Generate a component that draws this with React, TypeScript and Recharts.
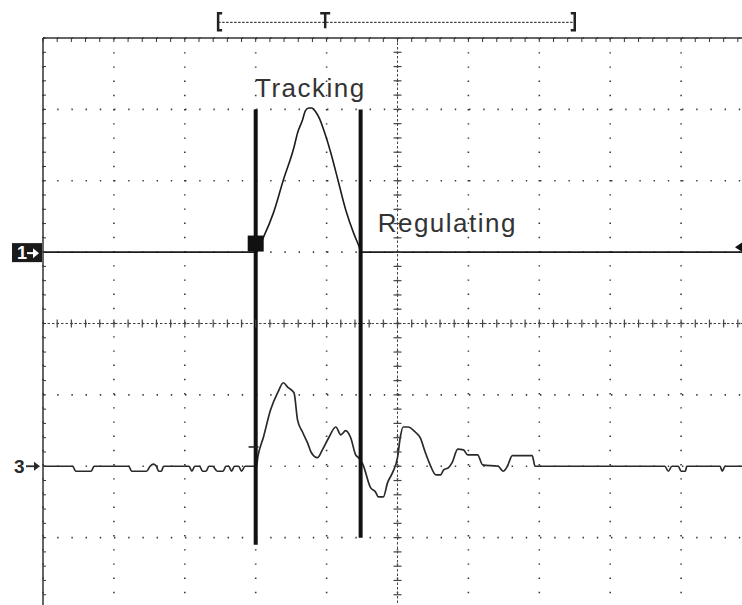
import { ComposedChart, Line, XAxis, YAxis, CartesianGrid, ReferenceLine, ReferenceDot, Scatter } from 'recharts'

// screen is 10 x 8 divisions, values are in divisions
const majorX = [0, 1, 2, 3, 4, 5, 6, 7, 8, 9, 10]
const majorY = [-4, -3, -2, -1, 0, 1, 2, 3, 4]
const minorX = Array.from({ length: 51 }, (_, i) => +(i * 0.2).toFixed(1))
const minorY = Array.from({ length: 41 }, (_, i) => +(-4 + i * 0.2).toFixed(1))

// channel 1 (offset +1 div)
const ch1Trace: [number, number][] = [
    [0, 1], [3.0, 1], [3.11, 1.21], [3.25, 1.55], [3.39, 2.01], [3.54, 2.47], [3.59, 2.67],
    [3.66, 2.85], [3.7, 2.98], [3.75, 3.02], [3.79, 3.02], [3.85, 2.96], [3.9, 2.87],
    [3.96, 2.71], [4.06, 2.39], [4.16, 2.01], [4.27, 1.59], [4.38, 1.27], [4.45, 1.1],
    [4.49, 1.0], [10, 1],
]

// channel 3 (offset -2 div)
const ch3Trace: [number, number][] = [
    [0, -2], [0.42, -2], [0.46, -2.07], [0.68, -2.07], [0.72, -2], [1.21, -2], [1.25, -2.07],
    [1.46, -2.07], [1.51, -2], [1.56, -1.97], [1.6, -2], [1.63, -2.07], [1.67, -2.07], [1.7, -2],
    [2.06, -2], [2.1, -2.07], [2.14, -2], [2.21, -2], [2.25, -2.07], [2.3, -2.07], [2.34, -2],
    [2.39, -2], [2.46, -2.07], [2.54, -2.07], [2.58, -2], [2.62, -2], [2.66, -2.07], [2.7, -2],
    [2.76, -2], [2.8, -2.07], [2.85, -2], [3.01, -2],
    [3.03, -1.87], [3.11, -1.59], [3.21, -1.21], [3.31, -0.97], [3.39, -0.83], [3.45, -0.89],
    [3.54, -0.97], [3.59, -1.35], [3.66, -1.52], [3.73, -1.67], [3.78, -1.8], [3.87, -1.88],
    [3.94, -1.77], [4.03, -1.6], [4.13, -1.45], [4.2, -1.56], [4.27, -1.5], [4.34, -1.6],
    [4.41, -1.84], [4.45, -1.88], [4.51, -1.97], [4.62, -2.3], [4.69, -2.36], [4.73, -2.43],
    [4.8, -2.43], [4.86, -2.23], [4.93, -2.09], [5.0, -1.88], [5.04, -1.59], [5.08, -1.45],
    [5.15, -1.45], [5.25, -1.52], [5.32, -1.6], [5.39, -1.8], [5.46, -1.98], [5.54, -2.12],
    [5.61, -2.12], [5.65, -2.05], [5.72, -2.02], [5.77, -1.95], [5.85, -1.76], [5.93, -1.77],
    [5.99, -1.84], [6.13, -1.84], [6.2, -1.98], [6.42, -2], [6.49, -2.07], [6.55, -2],
    [6.62, -1.85], [6.9, -1.85], [6.94, -2], [8.77, -2], [8.82, -2.07], [8.87, -2],
    [8.96, -2], [9.0, -2.07], [9.06, -2.07], [9.08, -2], [9.55, -2], [9.58, -2.07],
    [9.62, -2], [10, -2],
]

const cursorA = { x: 3.0, top: 3.0, bottom: -3.1 }
const cursorB = { x: 4.48, top: 3.0, bottom: -3.0 }
const triggerBar = { left: 2.47, pos: 3.98, right: 7.5, y: 4.22 }

const toPts = (arr: [number, number][]) => arr.map(([x, y]) => ({ x, y }))
const vTicks = minorY.map((y) => ({ x: 5, y }))
const hTicks = minorX.map((x) => ({ x, y: 0 }))

const ink = '#1c1c1c'
const gridInk = '#3a3a3a'
const font = '"Liberation Sans", Arial, sans-serif'

export default function App() {
    return (
        <div style={{ position: 'absolute', left: 0, top: 0, width: 742, height: 605, overflow: 'hidden', background: '#fff', fontFamily: font }}>
            <ComposedChart width={760} height={620} margin={{ top: 38, right: 8, bottom: 11, left: 43 }}>
                <CartesianGrid
                    verticalValues={majorX}
                    horizontalValues={majorY}
                    stroke={gridInk}
                    strokeWidth={1.6}
                    strokeDasharray="1.4 12.8"
                />
                <XAxis
                    type="number"
                    dataKey="x"
                    orientation="top"
                    mirror
                    domain={[0, 10]}
                    allowDataOverflow
                    ticks={minorX}
                    interval={0}
                    tickSize={4}
                    tickFormatter={() => ''}
                    stroke="#333"
                    axisLine={{ stroke: '#333', strokeWidth: 1.5 }}
                />
                <YAxis
                    type="number"
                    dataKey="y"
                    orientation="left"
                    mirror
                    domain={[-4, 4]}
                    allowDataOverflow
                    ticks={minorY}
                    interval={0}
                    tickSize={3}
                    tickFormatter={() => ''}
                    stroke="#333"
                    axisLine={{ stroke: '#333', strokeWidth: 1.5 }}
                />

                {/* center graticule */}
                <ReferenceLine x={5} stroke="#444" strokeDasharray="2.5 2" />
                <ReferenceLine y={0} stroke="#444" strokeDasharray="2.5 2" />
                <Scatter
                    data={vTicks}
                    isAnimationActive={false}
                    shape={(p: any) => <line x1={p.cx - 4} x2={p.cx + 4} y1={p.cy} y2={p.cy} stroke="#444" strokeWidth={1.2} />}
                />
                <Scatter
                    data={hTicks}
                    isAnimationActive={false}
                    shape={(p: any) => <line x1={p.cx} x2={p.cx} y1={p.cy - 4} y2={p.cy + 4} stroke="#444" strokeWidth={1.2} />}
                />

                {/* trigger position bar above the screen */}
                <ReferenceLine
                    segment={[{ x: triggerBar.left, y: triggerBar.y }, { x: triggerBar.right, y: triggerBar.y }]}
                    ifOverflow="visible"
                    stroke="#444"
                    strokeWidth={1.2}
                    strokeDasharray="2.5 1.5"
                />
                <ReferenceDot x={triggerBar.left} y={triggerBar.y} r={1} ifOverflow="visible"
                    shape={(p: any) => <path d={`M${p.cx + 4},${p.cy - 9} H${p.cx} V${p.cy + 8} H${p.cx + 4}`} fill="none" stroke="#222" strokeWidth={2.5} />} />
                <ReferenceDot x={triggerBar.right} y={triggerBar.y} r={1} ifOverflow="visible"
                    shape={(p: any) => <path d={`M${p.cx - 4},${p.cy - 9} H${p.cx} V${p.cy + 8} H${p.cx - 4}`} fill="none" stroke="#222" strokeWidth={2.5} />} />
                <ReferenceDot x={triggerBar.pos} y={triggerBar.y} r={1} ifOverflow="visible"
                    shape={(p: any) => <path d={`M${p.cx - 5},${p.cy - 9} H${p.cx + 5} M${p.cx},${p.cy - 9} V${p.cy + 6}`} fill="none" stroke="#222" strokeWidth={2.5} />} />

                {/* traces */}
                <Line data={toPts(ch1Trace)} dataKey="y" type="monotoneX" stroke={ink} strokeWidth={1.6} dot={false} isAnimationActive={false} />
                <Line data={toPts(ch3Trace)} dataKey="y" type="monotoneX" stroke="#2a2a2a" strokeWidth={1.7} dot={false} isAnimationActive={false} />

                {/* cursors */}
                <ReferenceLine segment={[{ x: cursorA.x, y: cursorA.top }, { x: cursorA.x, y: cursorA.bottom }]} stroke="#111" strokeWidth={4} ifOverflow="visible" />
                <ReferenceLine segment={[{ x: cursorB.x, y: cursorB.top }, { x: cursorB.x, y: cursorB.bottom }]} stroke="#111" strokeWidth={4} ifOverflow="visible" />

                {/* trigger level mark on ch3 */}
                <ReferenceLine segment={[{ x: 2.9, y: -1.73 }, { x: 3.04, y: -1.73 }]} stroke="#222" strokeWidth={1.6} ifOverflow="visible" />

                {/* trigger marker on ch1 */}
                <ReferenceDot x={3.0} y={1.12} r={1} ifOverflow="visible"
                    shape={(p: any) => <rect x={p.cx - 8} y={p.cy - 8} width={16} height={16} fill="#111" />} />
                {/* ch1 marker at right edge */}
                <ReferenceDot x={9.76} y={1.07} r={1} ifOverflow="visible"
                    shape={(p: any) => <polygon points={`${p.cx},${p.cy} ${p.cx + 9},${p.cy - 6} ${p.cx + 9},${p.cy + 6}`} fill="#111" />} />

                {/* channel labels */}
                <ReferenceDot x={0} y={1} r={1} ifOverflow="visible"
                    shape={(p: any) => (
                        <g>
                            <rect x={p.cx - 31} y={p.cy - 9} width={30} height={19} fill="#1a1a1a" />
                            <text x={p.cx - 26} y={p.cy + 7} fill="#fff" fontSize={18} fontWeight="bold" fontFamily={font}>1</text>
                            <line x1={p.cx - 16} x2={p.cx - 8} y1={p.cy + 1} y2={p.cy + 1} stroke="#fff" strokeWidth={2} />
                            <polygon points={`${p.cx - 4},${p.cy + 1} ${p.cx - 10},${p.cy - 4} ${p.cx - 10},${p.cy + 6}`} fill="#fff" />
                        </g>
                    )} />
                <ReferenceDot x={0} y={-2} r={1} ifOverflow="visible"
                    shape={(p: any) => (
                        <g>
                            <text x={p.cx - 29} y={p.cy + 7} fill="#2a2a2a" fontSize={19} fontWeight="bold" fontFamily={font}>3</text>
                            <line x1={p.cx - 17} x2={p.cx - 8} y1={p.cy} y2={p.cy} stroke="#2a2a2a" strokeWidth={1.8} />
                            <polygon points={`${p.cx - 3},${p.cy} ${p.cx - 9},${p.cy - 4.5} ${p.cx - 9},${p.cy + 4.5}`} fill="#2a2a2a" />
                        </g>
                    )} />

                {/* annotations */}
                <ReferenceDot x={2.99} y={3.17} r={1} ifOverflow="visible"
                    shape={(p: any) => <text x={p.cx} y={p.cy} fill="#333" fontSize={26} letterSpacing={1.5} fontFamily={font}>Tracking</text>} />
                <ReferenceDot x={4.72} y={1.28} r={1} ifOverflow="visible"
                    shape={(p: any) => <text x={p.cx} y={p.cy} fill="#333" fontSize={26} letterSpacing={1.5} fontFamily={font}>Regulating</text>} />
            </ComposedChart>
        </div>
    )
}
